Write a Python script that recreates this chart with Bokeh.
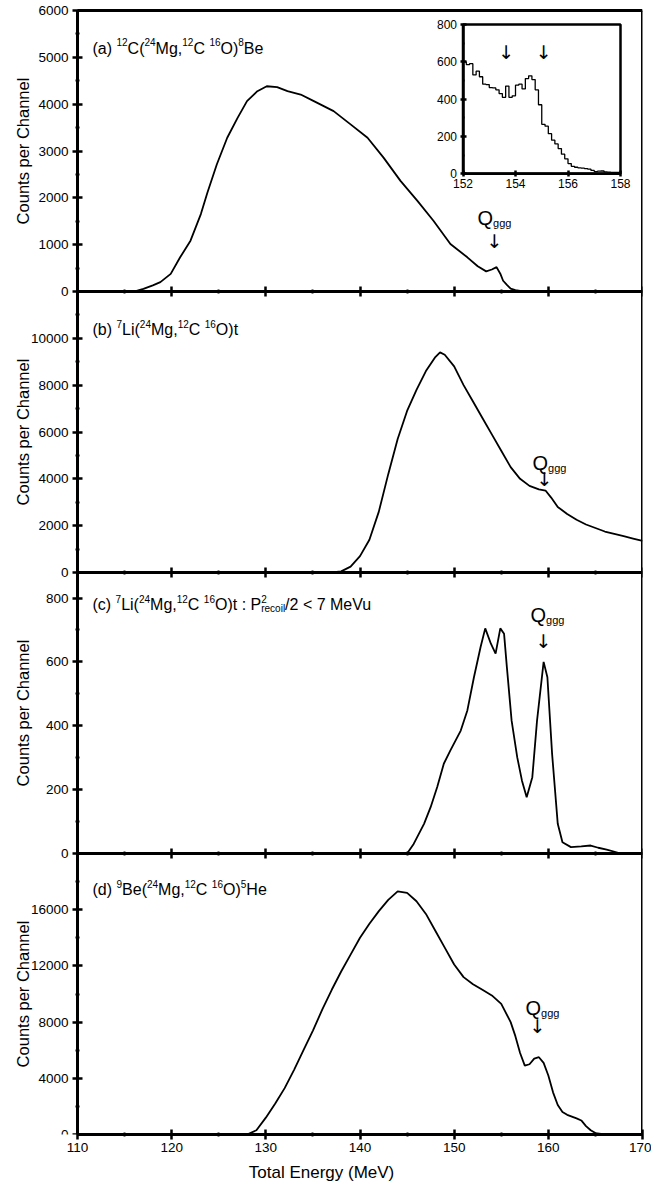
from bokeh.plotting import figure
from bokeh.models import Range1d, LinearAxis, FixedTicker, Label
from bokeh.embed import file_html
from bokeh.resources import INLINE

FONT = "Liberation Sans"
ARROW_FONT = "DejaVu Sans"

# ---------------- data ----------------
energy_a = [110, 116, 117, 118, 118.8, 119.9, 120.9, 122.0, 123.1, 123.8, 124.8, 125.9, 127.0, 128.0,
            129.1, 130.1, 131.2, 132.3, 133.7, 135.1, 137.2, 139.0, 140.8, 142.5, 144.3, 146.1, 147.8,
            149.6, 151.4, 152.5, 153.4, 154.0, 154.5, 154.9, 155.2, 155.6, 156.0, 156.5, 157.0, 158, 170]
counts_a = [0, 0, 57, 130, 200, 376, 730, 1085, 1653, 2113, 2717, 3283, 3708, 4064,
            4277, 4383, 4362, 4277, 4206, 4064, 3851, 3568, 3283, 2858, 2362, 1936, 1511,
            1014, 730, 540, 430, 470, 520, 380, 230, 140, 60, 30, 12, 0, 0]

inset_energy = [152.000, 152.125, 152.250, 152.375, 152.500, 152.625, 152.750, 152.875,
                153.000, 153.125, 153.250, 153.375, 153.500, 153.625, 153.750, 153.875,
                154.000, 154.125, 154.250, 154.375, 154.500, 154.625, 154.750, 154.875,
                155.000, 155.125, 155.250, 155.375, 155.500, 155.625, 155.750, 155.875,
                156.000, 156.125, 156.250, 156.375, 156.500, 156.625, 156.750, 156.875,
                157.000, 157.125, 157.250, 157.375, 157.500, 157.625, 157.750, 157.875, 158.000]
inset_counts = [600, 585, 590, 530, 550, 520, 480, 478,
                462, 460, 450, 430, 410, 470, 410, 418,
                475, 480, 455, 510, 525, 505, 450, 370,
                265, 255, 215, 180, 160, 135, 105, 80,
                55, 40, 35, 32, 30, 28, 25, 18,
                12, 14, 15, 10, 9, 8, 8, 7, 7]
inset_arrows_energy = [153.65, 155.07]
inset_arrows_counts = [655, 655]

energy_b = [110, 137, 138, 139, 140, 141, 142, 143, 144, 145, 146, 147, 148, 148.5, 149, 150, 151, 152,
            153, 154, 155, 156, 157, 158, 159, 159.7, 160.3, 161, 162, 163, 164, 165, 166, 167, 168,
            169, 170]
counts_b = [0, 0, 50, 250, 700, 1400, 2600, 4200, 5700, 6900, 7800, 8600, 9200, 9400, 9300, 8800, 8000,
            7300, 6600, 5900, 5200, 4500, 4000, 3700, 3550, 3500, 3200, 2800, 2500, 2250, 2050, 1900,
            1750, 1650, 1550, 1450, 1350]

energy_c = [110, 145.0, 145.7, 146.8, 147.5, 148.2, 148.9, 149.6, 150.7, 151.4, 152.1, 152.8, 153.3,
            153.9, 154.4, 154.9, 155.3, 155.6, 156.1, 156.7, 157.2, 157.7, 158.3, 158.8, 159.5, 159.9,
            160.4, 161.0, 161.5, 162.4, 163.5, 164.5, 165.3, 166.2, 167.7, 170]
counts_c = [0, 0, 30, 93, 145, 208, 281, 323, 385, 448, 552, 646, 705,
            657, 626, 705, 688, 583, 416, 301, 228, 176, 239, 416, 600, 552,
            312, 93, 35, 20, 22, 25, 18, 12, 0, 0]

energy_d = [110, 128, 129, 130, 131, 132, 133, 134, 135, 136, 137, 138, 139, 140, 141, 142, 143, 144,
            145, 146, 147, 148, 149, 150, 151, 152, 153, 154, 155, 156, 156.5, 157, 157.5, 158, 158.5,
            159, 159.5, 160, 160.5, 161, 161.5, 162, 163, 163.5, 164, 164.5, 165, 166, 170]
counts_d = [0, 0, 300, 1200, 2200, 3300, 4600, 6000, 7400, 8900, 10300, 11600, 12800, 14000, 15000,
            15900, 16700, 17300, 17200, 16600, 15700, 14500, 13300, 12100, 11200, 10700, 10300, 9900,
            9300, 8000, 7000, 5800, 4900, 5000, 5400, 5500, 5100, 4200, 3000, 2100, 1600, 1400, 1150,
            1000, 600, 300, 100, 0, 0]

x_ticks = [110, 120, 130, 140, 150, 160, 170]
x_minor = [115, 125, 135, 145, 155, 165]
x_range = (110, 170)

y_max = [6000, 12000, 880, 20000]
y_ticks = [[0, 1000, 2000, 3000, 4000, 5000, 6000],
           [0, 2000, 4000, 6000, 8000, 10000],
           [0, 200, 400, 600, 800],
           [0, 4000, 8000, 12000, 16000]]
y_minor = [[500, 1500, 2500, 3500, 4500, 5500],
           [1000, 3000, 5000, 7000, 9000, 11000],
           [100, 300, 500, 700],
           [2000, 6000, 10000, 14000, 18000]]

inset_x_ticks = [152, 154, 156, 158]
inset_y_ticks = [0, 200, 400, 600, 800]
inset_y_minor = [100, 300, 500, 700]

titles = [
    [("(a) ", "n"), ("12", "sup"), ("C(", "n"), ("24", "sup"), ("Mg,", "n"), ("12", "sup"), ("C ", "n"),
     ("16", "sup"), ("O)", "n"), ("8", "sup"), ("Be", "n")],
    [("(b) ", "n"), ("7", "sup"), ("Li(", "n"), ("24", "sup"), ("Mg,", "n"), ("12", "sup"), ("C ", "n"),
     ("16", "sup"), ("O)t", "n")],
    [("(c) ", "n"), ("7", "sup"), ("Li(", "n"), ("24", "sup"), ("Mg,", "n"), ("12", "sup"), ("C ", "n"),
     ("16", "sup"), ("O)t : P", "n"), (("2", "recoil"), "stack"), ("/2 < 7 MeVu", "n")],
    [("(d) ", "n"), ("9", "sup"), ("Be(", "n"), ("24", "sup"), ("Mg,", "n"), ("12", "sup"), ("C ", "n"),
     ("16", "sup"), ("O)", "n"), ("5", "sup"), ("He", "n")],
]
y_title = "Counts per Channel"

# ---------------- layout constants (canvas pixels, from top-left) ----------------
PLOT_L, PLOT_R = 77, 642        # x pixel of 110 and 170 MeV
TOP = 10                         # y pixel of the top of panel (a)
PH = 281                         # height of one panel
NP = 4
FRAME_W = PLOT_R                 # frame spans from canvas left to the right edge of the plot
FRAME_H = TOP + NP * PH
title_xy = [(92, 47.5), (92, 329), (92, 604), (92, 889)]     # baseline-left of panel titles
q_xy = [(477, 217), (532, 462), (530, 614), (525, 1007)]      # baseline-left of "Q"
arrow_xy = [(494, 240), (544, 478), (543, 640), (537, 1025)]   # centres of arrows
ytitle_x = 22
inset_box = (462.5, 620.0, 24.0, 173.3)                        # left, right, top, bottom pixels

W = {' ': 278, '(': 333, ')': 333, ',': 278, '.': 278, '/': 278, ':': 278, '<': 584,
     'a': 556, 'b': 556, 'c': 500, 'd': 556, 'e': 556, 'g': 556, 'i': 222, 'l': 222, 'o': 556,
     'r': 333, 't': 278, 'u': 556, 'v': 500, 'B': 667, 'C': 722, 'H': 722, 'L': 556, 'M': 833,
     'O': 778, 'P': 667, 'V': 667, 'Q': 778}


def tw(s, size):
    return sum(W.get(ch, 556) for ch in s) * size / 1000.0


xs = (x_range[1] - x_range[0]) / (PLOT_R - PLOT_L)
p = figure(frame_width=FRAME_W, frame_height=FRAME_H,
           x_range=Range1d(x_range[0] - PLOT_L * xs, x_range[1]),
           y_range=Range1d(0, FRAME_H / PH),
           output_backend="svg", toolbar_location=None, x_axis_location=None, y_axis_location=None,
           min_border_left=0, min_border_right=651 - FRAME_W, min_border_top=0,
           min_border_bottom=1188 - FRAME_H,
           background_fill_color="white", border_fill_color="white")
p.grid.visible = False
p.outline_line_color = None


def lab(x, y, text, size, align="left", baseline="alphabetic", font=FONT, angle=0):
    # x, y in canvas pixels from top-left
    p.add_layout(Label(x=x, y=FRAME_H - y, x_units="screen", y_units="screen", text=text,
                       text_font=font, text_font_size=f"{size}px", text_color="black",
                       text_align=align, text_baseline=baseline, angle=angle, angle_units="deg"))


def rich(x0, y0, segs, size=16, small=10):
    x = x0
    for txt, kind in segs:
        if kind == "n":
            lab(x, y0, txt, size)
            x += tw(txt, size)
        elif kind == "sup":
            lab(x, y0 - 6, txt, small)
            x += tw(txt, small)
        elif kind == "stack":
            sup, sub = txt
            lab(x, y0 - 6, sup, small)
            lab(x, y0 + 4, sub, small)
            x += max(tw(sup, small), tw(sub, small))


def tick_style(ax, tin, tout, mtin, mtout, lw=3):
    ax.axis_line_width = lw
    ax.axis_line_color = "black"
    ax.major_tick_in = tin
    ax.major_tick_out = tout
    ax.minor_tick_in = mtin
    ax.minor_tick_out = mtout
    ax.major_tick_line_width = 2.5
    ax.minor_tick_line_width = 2
    ax.major_tick_line_color = "black"
    ax.minor_tick_line_color = "black"


data = [(energy_a, counts_a), (energy_b, counts_b), (energy_c, counts_c), (energy_d, counts_d)]
for k, (E, C) in enumerate(data):
    j = NP - 1 - k                    # panel index counted from the bottom
    name = f"y{k}"
    ym = y_max[k]
    ys = ym / PH
    p.extra_y_ranges[name] = Range1d(-j * PH * ys, -j * PH * ys + FRAME_H * ys)

    ya = LinearAxis(y_range_name=name, fixed_location=x_range[0], bounds=(0, ym),
                    ticker=FixedTicker(ticks=y_ticks[k], minor_ticks=y_minor[k]))
    tick_style(ya, 5, 5, 2, 2)
    ya.major_label_text_font = FONT
    ya.major_label_text_font_size = "13.5px"
    ya.major_label_text_color = "black"
    ya.major_label_standoff = 4
    p.add_layout(ya, "left")

    if k < NP - 1:
        xb = LinearAxis(y_range_name=name, fixed_location=0, bounds=x_range,
                        ticker=FixedTicker(ticks=x_ticks, minor_ticks=x_minor))
        tick_style(xb, 5, 5, 2, 2)
        xb.major_label_text_font_size = "0px"
        xb.major_label_text_alpha = 0
        p.add_layout(xb, "below")
    if k == 0:
        xt = LinearAxis(y_range_name=name, fixed_location=ym, bounds=x_range,
                        ticker=FixedTicker(ticks=[], minor_ticks=[]))
        tick_style(xt, 0, 0, 0, 0)
        xt.major_label_text_font_size = "0px"
        p.add_layout(xt, "above")

    p.line(E, C, line_color="black", line_width=1.8, y_range_name=name)

    lab(ytitle_x, TOP + (k + 0.5) * PH, y_title, 16.5, align="center", baseline="middle", angle=90)
    rich(title_xy[k][0], title_xy[k][1], titles[k])
    qx, qy = q_xy[k]
    lab(qx, qy, "Q", 20)
    lab(qx + tw("Q", 20), qy + 5, "ggg", 11)
    lab(arrow_xy[k][0], arrow_xy[k][1], "\u2193", 19, align="center", baseline="middle", font=ARROW_FONT)

# right border line
yr = LinearAxis(fixed_location=x_range[1], bounds=(0, NP), ticker=FixedTicker(ticks=[], minor_ticks=[]))
tick_style(yr, 0, 0, 0, 0)
yr.major_label_text_font_size = "0px"
p.add_layout(yr, "right")

xaxis = LinearAxis(ticker=FixedTicker(ticks=x_ticks, minor_ticks=x_minor), bounds=x_range,
                   axis_label="Total Energy (MeV)")
tick_style(xaxis, 5, 5, 2, 2)
xaxis.major_label_text_font = FONT
xaxis.major_label_text_font_size = "13.5px"
xaxis.major_label_text_color = "black"
xaxis.major_label_standoff = 3
xaxis.axis_label_text_font = FONT
xaxis.axis_label_text_font_size = "17px"
xaxis.axis_label_text_font_style = "normal"
xaxis.axis_label_text_color = "black"
xaxis.axis_label_standoff = 8
p.add_layout(xaxis, "below")

# ---------------- inset in panel (a) ----------------
bl, br, bt, bb = inset_box
ix0, ix1 = inset_x_ticks[0], inset_x_ticks[-1]
iy0, iy1 = inset_y_ticks[0], inset_y_ticks[-1]
sx = (ix1 - ix0) / (br - bl)
sy = (iy1 - iy0) / (bb - bt)
p.extra_x_ranges = {"ix": Range1d(ix0 - bl * sx, ix0 - bl * sx + FRAME_W * sx)}
iy_start = iy0 - (FRAME_H - bb) * sy
p.extra_y_ranges["iy"] = Range1d(iy_start, iy_start + FRAME_H * sy)

p.quad(left=[ix0], right=[ix1], bottom=[iy0], top=[iy1], fill_color="white", line_color="black",
       line_width=2.5, x_range_name="ix", y_range_name="iy")
p.step(inset_energy, inset_counts, mode="after", line_color="black", line_width=1.3,
       x_range_name="ix", y_range_name="iy")
p.text(x=inset_arrows_energy, y=inset_arrows_counts, text=["\u2193"] * len(inset_arrows_energy),
       text_align="center", text_baseline="middle", text_font_size="19px", text_color="black",
       text_font={"value": ARROW_FONT}, x_range_name="ix", y_range_name="iy")

ixa = LinearAxis(x_range_name="ix", y_range_name="iy", fixed_location=iy0, bounds=(ix0, ix1),
                 ticker=FixedTicker(ticks=inset_x_ticks, minor_ticks=[]))
tick_style(ixa, 3, 3, 0, 0, lw=2.5)
ixa.major_label_text_font = FONT
ixa.major_label_text_font_size = "12px"
ixa.major_label_text_color = "black"
ixa.major_label_standoff = 2
p.add_layout(ixa, "below")

iya = LinearAxis(x_range_name="ix", y_range_name="iy", fixed_location=ix0, bounds=(iy0, iy1),
                 ticker=FixedTicker(ticks=inset_y_ticks, minor_ticks=inset_y_minor))
tick_style(iya, 3, 3, 1, 1, lw=2.5)
iya.major_label_text_font = FONT
iya.major_label_text_font_size = "12px"
iya.major_label_text_color = "black"
iya.major_label_standoff = 3
p.add_layout(iya, "left")

open("out.html", "w").write(file_html(p, INLINE))
